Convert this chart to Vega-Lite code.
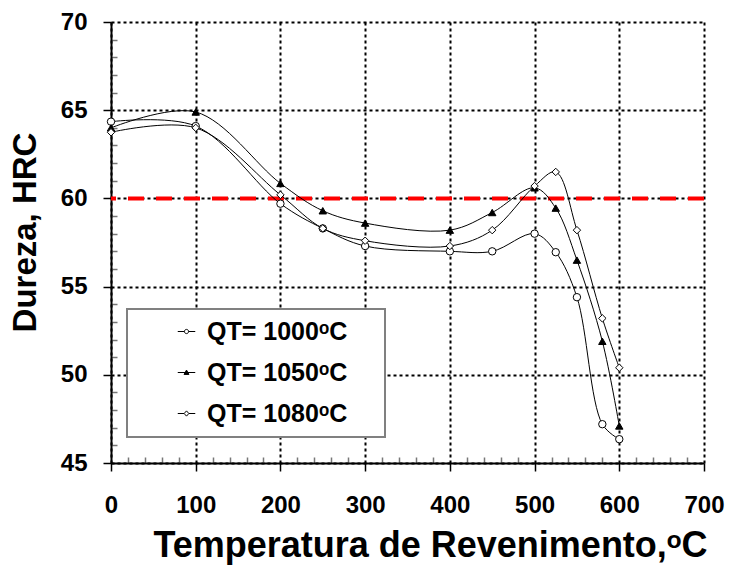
{
  "$schema": "https://vega.github.io/schema/vega-lite/v6.json",
  "width": 593,
  "height": 441,
  "autosize": {"type": "none"},
  "padding": {"left": 111, "top": 22, "right": 35, "bottom": 107},
  "config": {
    "view": {"stroke": null},
    "font": "Liberation Sans",
    "axis": {"labelFont": "Liberation Sans", "titleFont": "Liberation Sans", "labelFontWeight": "bold", "titleFontWeight": "bold", "labelColor": "black", "titleColor": "black"}
  },
  "data": {
    "values": [
      {"t": 0, "hrc": 64.35, "serie": "QT= 1000ᵒC"},
      {"t": 100, "hrc": 64.1, "serie": "QT= 1000ᵒC"},
      {"t": 200, "hrc": 59.7, "serie": "QT= 1000ᵒC"},
      {"t": 250, "hrc": 58.3, "serie": "QT= 1000ᵒC"},
      {"t": 300, "hrc": 57.3, "serie": "QT= 1000ᵒC"},
      {"t": 400, "hrc": 57.0, "serie": "QT= 1000ᵒC"},
      {"t": 450, "hrc": 57.0, "serie": "QT= 1000ᵒC"},
      {"t": 500, "hrc": 58.0, "serie": "QT= 1000ᵒC"},
      {"t": 525, "hrc": 56.95, "serie": "QT= 1000ᵒC"},
      {"t": 550, "hrc": 54.4, "serie": "QT= 1000ᵒC"},
      {"t": 580, "hrc": 47.2, "serie": "QT= 1000ᵒC"},
      {"t": 600, "hrc": 46.35, "serie": "QT= 1000ᵒC"},
      {"t": 0, "hrc": 64.0, "serie": "QT= 1050ᵒC"},
      {"t": 100, "hrc": 64.9, "serie": "QT= 1050ᵒC"},
      {"t": 200, "hrc": 60.85, "serie": "QT= 1050ᵒC"},
      {"t": 250, "hrc": 59.3, "serie": "QT= 1050ᵒC"},
      {"t": 300, "hrc": 58.6, "serie": "QT= 1050ᵒC"},
      {"t": 400, "hrc": 58.2, "serie": "QT= 1050ᵒC"},
      {"t": 450, "hrc": 59.2, "serie": "QT= 1050ᵒC"},
      {"t": 500, "hrc": 60.6, "serie": "QT= 1050ᵒC"},
      {"t": 525, "hrc": 59.45, "serie": "QT= 1050ᵒC"},
      {"t": 550, "hrc": 56.5, "serie": "QT= 1050ᵒC"},
      {"t": 580, "hrc": 51.9, "serie": "QT= 1050ᵒC"},
      {"t": 600, "hrc": 47.1, "serie": "QT= 1050ᵒC"},
      {"t": 0, "hrc": 63.75, "serie": "QT= 1080ᵒC"},
      {"t": 100, "hrc": 64.0, "serie": "QT= 1080ᵒC"},
      {"t": 200, "hrc": 60.2, "serie": "QT= 1080ᵒC"},
      {"t": 250, "hrc": 58.3, "serie": "QT= 1080ᵒC"},
      {"t": 300, "hrc": 57.6, "serie": "QT= 1080ᵒC"},
      {"t": 400, "hrc": 57.3, "serie": "QT= 1080ᵒC"},
      {"t": 450, "hrc": 58.2, "serie": "QT= 1080ᵒC"},
      {"t": 500, "hrc": 60.7, "serie": "QT= 1080ᵒC"},
      {"t": 525, "hrc": 61.5, "serie": "QT= 1080ᵒC"},
      {"t": 550, "hrc": 58.2, "serie": "QT= 1080ᵒC"},
      {"t": 580, "hrc": 53.2, "serie": "QT= 1080ᵒC"},
      {"t": 600, "hrc": 50.4, "serie": "QT= 1080ᵒC"}
    ]
  },
  "layer": [
    {
      "mark": {"type": "point", "opacity": 0},
      "encoding": {
        "x": {"field": "t", "type": "quantitative", "scale": {"domain": [0, 700], "nice": false, "zero": false},
          "axis": {"orient": "bottom", "values": [20, 40, 60, 80, 120, 140, 160, 180, 220, 240, 260, 280, 320, 340, 360, 380, 420, 440, 460, 480, 520, 540, 560, 580, 620, 640, 660, 680],
            "labels": false, "domain": false, "grid": false, "title": null, "ticks": true, "tickSize": -6, "tickColor": "#777777", "tickWidth": 1.5}},
        "y": {"field": "hrc", "type": "quantitative", "scale": {"domain": [45, 70], "nice": false, "zero": false},
          "axis": {"orient": "left", "values": [46, 47, 48, 49, 51, 52, 53, 54, 56, 57, 58, 59, 61, 62, 63, 64, 66, 67, 68, 69],
            "labels": false, "domain": false, "grid": false, "title": null, "ticks": true, "tickSize": -6, "tickColor": "#777777", "tickWidth": 1.5}}
      }
    },
    {
      "data": {"values": [{"limite": 60}]},
      "mark": {"type": "rule", "color": "#ff0000", "strokeWidth": 4, "strokeDash": [16, 12]},
      "encoding": {
        "y": {"field": "limite", "type": "quantitative", "axis": null}
      }
    },
    {
      "mark": {"type": "line", "strokeWidth": 1, "interpolate": "catmull-rom"},
      "encoding": {
        "x": {"field": "t", "type": "quantitative",
          "axis": {"orient": "bottom", "values": [0, 100, 200, 300, 400, 500, 600, 700], "grid": true, "gridColor": "black", "gridWidth": 2, "gridDash": [3, 3], "gridOpacity": 1,
            "domainColor": "black", "domainWidth": 2, "tickColor": "black", "tickWidth": 1.5, "tickSize": 8,
            "labelFontSize": 24, "labelPadding": 22, "labelFlush": false,
            "title": "Temperatura de Revenimento,ᵒC", "titleFontSize": 36, "titleX": 319, "titleY": 93, "titleAlign": "center", "titleBaseline": "alphabetic"}},
        "y": {"field": "hrc", "type": "quantitative",
          "axis": {"orient": "left", "values": [45, 50, 55, 60, 65, 70], "grid": true, "gridColor": "black", "gridWidth": 2, "gridDash": [3, 3], "gridOpacity": 1,
            "domainColor": "black", "domainWidth": 2, "tickColor": "black", "tickWidth": 1.5, "tickSize": 8,
            "labelFontSize": 24, "labelPadding": 16, "labelFlush": false,
            "title": "Dureza, HRC", "titleFontSize": 33, "titleAngle": -90, "titleX": -86, "titleY": 210, "titleAlign": "center", "titleBaseline": "middle"}},
        "stroke": {"field": "serie", "type": "nominal", "scale": {"range": ["black", "black", "black"]},
          "legend": {"orient": "none", "legendX": 16, "legendY": 287, "title": null, "direction": "vertical",
            "labelFont": "Liberation Sans", "labelFontWeight": "bold", "labelFontSize": 25, "labelColor": "black", "labelLimit": 400,
            "labelExpr": "datum.label + '\u00a0\u00a0\u00a0\u00a0\u200d'",
            "padding": 10, "strokeColor": "#808080", "fillColor": "white", "symbolSize": 49,
            "symbolOffset": 37, "labelOffset": 8, "rowPadding": 15, "symbolStrokeWidth": 1,
            "encode": {
              "legend": {"update": {"strokeWidth": {"value": 2}}},
              "symbols": {"update": {
                "shape": {"signal": "indexof(datum.value, '1000') >= 0 ? 'M-2.5,0H-0.6M0.6,0H2.5M0.6,0A0.6,0.6,0,1,1,-0.6,0A0.6,0.6,0,1,1,0.6,0Z' : (indexof(datum.value, '1050') >= 0 ? 'M-2.5,0H2.5M-0.7,0.55L0.7,0.55L0,-0.7Z' : 'M-2.5,0H-0.67M0.67,0H2.5M0,-0.75L0.67,0L0,0.75L-0.67,0Z')"},
                "fill": {"signal": "indexof(datum.value, '1050') >= 0 ? 'black' : 'white'"},
                "strokeWidth": {"value": 1}, "opacity": {"value": 1}
              }}
            }}}
      }
    },
    {
      "mark": {"type": "point", "filled": false, "stroke": "black", "strokeWidth": 1, "size": 55, "opacity": 1},
      "encoding": {
        "x": {"field": "t", "type": "quantitative", "axis": null},
        "y": {"field": "hrc", "type": "quantitative", "axis": null},
        "shape": {"condition": [{"test": "indexof(datum.serie, '1050') >= 0", "value": "triangle-up"}, {"test": "indexof(datum.serie, '1080') >= 0", "value": "diamond"}], "value": "circle"},
        "fill": {"condition": [{"test": "indexof(datum.serie, '1050') >= 0", "value": "black"}], "value": "white"}
      }
    }
  ],
  "resolve": {"axis": {"x": "independent", "y": "independent"}}
}
